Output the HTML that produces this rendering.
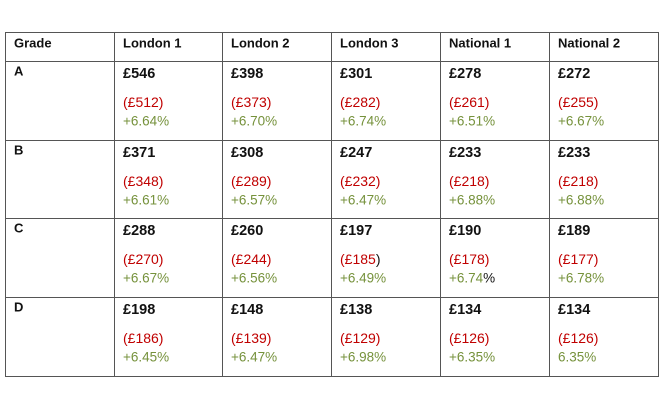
<!DOCTYPE html>
<html><head><style>
body{margin:0;width:664px;height:410px;background:#fff;position:relative;font-family:"Liberation Sans",sans-serif;overflow:hidden}
.l{position:absolute;background:#555}
.t{position:absolute;white-space:nowrap;line-height:1;transform:translateY(-50%)}
.h{font-size:13px;font-weight:bold;color:#111}
.v{font-size:14.5px;font-weight:bold;color:#111}
.r{font-size:14px;color:#c00000}
.g{font-size:13.5px;color:#76923c}
</style></head><body>
<div id="w"></div>
<script>
var W=document.getElementById('w'),h='';
var xs=[5,114,222,331,440,549,658],ys=[32,61,140,218,297,376];
xs.forEach(function(x){h+='<div class="l" style="left:'+x+'px;top:32px;width:1px;height:345px"></div>'});
ys.forEach(function(y){h+='<div class="l" style="left:5px;top:'+y+'px;width:654px;height:1px"></div>'});
var hd=['Grade','London 1','London 2','London 3','National 1','National 2'];
hd.forEach(function(s,i){h+='<div class="t h" style="left:'+(xs[i]+9)+'px;top:43px">'+s+'</div>'});
var d=[['A',['£546','£512','+6.64%'],['£398','£373','+6.70%'],['£301','£282','+6.74%'],['£278','£261','+6.51%'],['£272','£255','+6.67%']],
['B',['£371','£348','+6.61%'],['£308','£289','+6.57%'],['£247','£232','+6.47%'],['£233','£218','+6.88%'],['£233','£218','+6.88%']],
['C',['£288','£270','+6.67%'],['£260','£244','+6.56%'],['£197','£185','+6.49%'],['£190','£178','+6.74<span style="color:#111">%</span>'],['£189','£177','+6.78%']],
['D',['£198','£186','+6.45%'],['£148','£139','+6.47%'],['£138','£129','+6.98%'],['£134','£126','+6.35%'],['£134','£126','6.35%']]];
d.forEach(function(r,j){var y=ys[j+1];
h+='<div class="t h" style="left:14px;top:'+(y+10)+'px">'+r[0]+'</div>';
for(var i=1;i<6;i++){var c=r[i],x=xs[i]+9;
var red='('+c[1]+')';if(j==2&&i==3)red='('+c[1]+'<span style="color:#111">)</span>';
h+='<div class="t v" style="left:'+x+'px;top:'+(y+13)+'px">'+c[0]+'</div>';
h+='<div class="t r" style="left:'+x+'px;top:'+(y+41)+'px">'+red+'</div>';
h+='<div class="t g" style="left:'+x+'px;top:'+(y+60)+'px">'+c[2]+'</div>';}});
W.innerHTML=h;
</script>
</body></html>
